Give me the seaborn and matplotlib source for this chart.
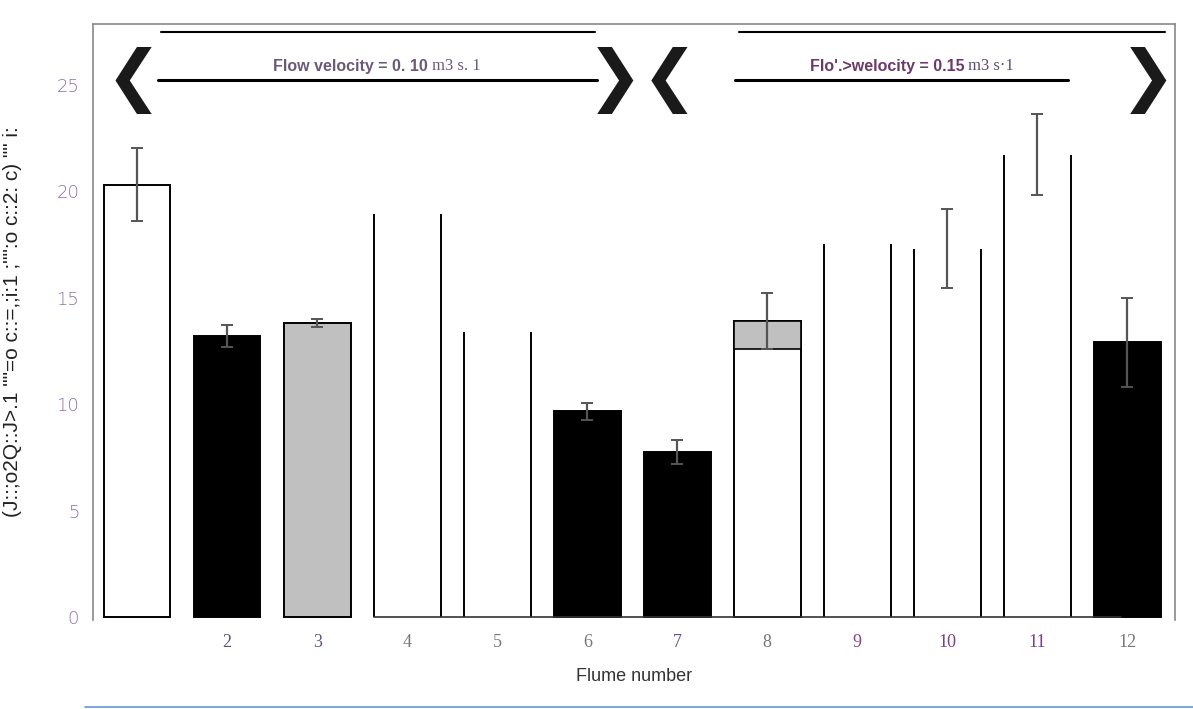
import numpy as np
import pandas as pd
import matplotlib
matplotlib.use("Agg")
import matplotlib.pyplot as plt
import seaborn as sns
from matplotlib.lines import Line2D

# values
flumes = ["1", "2", "3", "4", "5", "6", "7", "8", "9", "10", "11", "12"]
tick_labels = ["", "2", "3", "4", "5", "6", "7", "8", "9", "10", "11", "12"]
means = [20.3, 13.2, 13.8, 18.9, 13.4, 9.65, 7.75, 13.9, 17.5, 17.3, 21.7, 12.9]
errs = [1.7, 0.5, 0.2, np.nan, np.nan, 0.4, 0.55, 1.3, np.nan, 1.85, 1.9, 2.1]
fills = ["white", "black", "#c0c0c0", "white", "white", "black", "black",
         "white", "white", "white", "white", "black"]
open_top = [False, False, False, True, True, False, False, False, True, True, True, False]
tick_colors = ["#777777", "#5a4f8a", "#6b4f8a", "#777777", "#777777", "#777777",
               "#6b4f8a", "#777777", "#8a3f8a", "#7a3f8a", "#7a3f8a", "#777777"]
groups = ["Flow velocity = 0. 10", "Flo'.>welocity = 0.15"]
units = ["m3 s. 1", "m3 s\u00b71"]
ylabel = "(J::;o2Q::J>.1 \"\"=o c::=,;i:1 ;\"\":o c::2: c) \"\" i:"

df = pd.DataFrame({"flume": flumes, "mean": means, "err": errs})

sns.set_style("white")
plt.rcParams["font.family"] = ["Liberation Sans", "DejaVu Sans"]

fig = plt.figure(figsize=(11.93, 7.09), dpi=100)
ax = fig.add_axes([0.078, 0.1255, 0.907, 0.8406])

sns.barplot(data=df, x="flume", y="mean", hue="flume", palette=fills, legend=False,
            width=0.74, edgecolor="black", linewidth=1.4, errorbar=None, ax=ax)

# scanned bars with lost outline tops: keep only the side edges
for p, is_open in zip(ax.patches, open_top):
    if is_open:
        p.set_edgecolor("none")
        ax.vlines([p.get_x(), p.get_x() + p.get_width()], 0, p.get_height(),
                  color="black", lw=1.4)

# shaded band under flume 8 (lower half of its error bar)
i8 = flumes.index("8")
ax.bar(i8, errs[i8], bottom=means[i8] - errs[i8], width=0.74, color="#c0c0c0",
       edgecolor="black", linewidth=1.2)

ok = df["err"].notna()
ax.errorbar(np.arange(len(df))[ok], df["mean"][ok], yerr=df["err"][ok], fmt="none",
            ecolor="#555555", elinewidth=1.6, capsize=4, capthick=1.4)

ax.set_xlim(-0.49, 11.53)
ax.set_ylim(-0.14, 27.84)
ax.set_yticks([0, 5, 10, 15, 20, 25])
ax.set_yticklabels(["0", "5", "10", "15", "20", "25"], color="#8e6ea6",
                   fontsize=13, fontfamily="DejaVu Sans", fontweight="light")
ax.set_xticks(range(len(flumes)))
ax.set_xticklabels(tick_labels, fontsize=13, fontfamily="Liberation Serif")
for lab, c in zip(ax.get_xticklabels(), tick_colors):
    lab.set_color(c)
ax.tick_params(axis="both", length=0, pad=10)
ax.set_xlabel("Flume number", fontsize=13, color="#333333", labelpad=12)
ax.set_ylabel(ylabel, fontsize=15, color="#222222")
ax.yaxis.set_label_coords(-0.066, 0.5)

for side in ["left", "top", "right"]:
    ax.spines[side].set_color("#888888")
    ax.spines[side].set_linewidth(1.2)
ax.spines["bottom"].set_visible(False)
ax.axhline(0, xmin=0.26, xmax=0.95, color="#333333", lw=1.2)

# flow velocity brackets
for x0, x1 in [(0.26, 5.09), (6.68, 11.42)]:
    ax.plot([x0, x1], [27.46, 27.46], color="black", lw=1.5, clip_on=False)
for x0, x1 in [(0.23, 5.11), (6.64, 10.34)]:
    ax.plot([x0, x1], [25.2, 25.2], color="black", lw=2.2)
ax.text(3.23, 25.5, groups[0], ha="right", va="bottom", fontsize=11.5,
        fontweight="bold", color="#6a5a7a")
ax.text(3.28, 25.5, units[0], ha="left", va="bottom", fontsize=12,
        fontfamily="Liberation Serif", color="#6a5a7a")
ax.text(9.19, 25.5, groups[1], ha="right", va="bottom", fontsize=11.5,
        fontweight="bold", color="#6a3a6a")
ax.text(9.23, 25.5, units[1], ha="left", va="bottom", fontsize=12,
        fontfamily="Liberation Serif", color="#5a4a7a")
for xc, ch in [(-0.04, "\u276e"), (5.62, "\u276f\u276e"), (11.23, "\u276f")]:
    ax.text(xc, 25.2, ch, ha="center", va="center", fontsize=48,
            fontfamily="DejaVu Sans", color="#1a1a1a")

fig.add_artist(Line2D([0.071, 1.0], [0.0025, 0.0025], color="#6a96d8", lw=1.2))

fig.savefig("out.png", dpi=100)
